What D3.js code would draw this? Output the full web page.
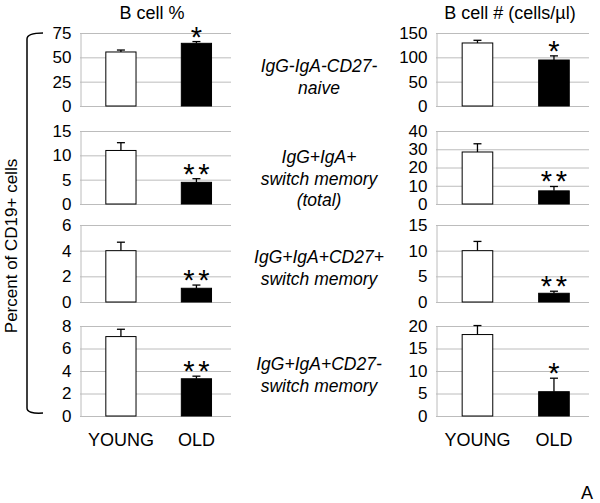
<!DOCTYPE html>
<html>
<head>
<meta charset="utf-8">
<script src="https://cdn.jsdelivr.net/npm/d3@7"></script>
<style>
  body { margin: 0; background: #fff; }
  text { font-family: "Liberation Sans", Arial, sans-serif; fill: #000; }
</style>
</head>
<body>
<div id="chart"></div>
<script>
// groups on the x axis
var groups = ["YOUNG", "OLD"];

// B cell % (left column), one row per subset
var pctMeans = [[55.5, 64.4], [11.0, 4.45], [4.0, 1.07], [7.06, 3.31]];
var pctErrors = [[2.0, 1.8], [1.6, 0.75], [0.66, 0.25], [0.65, 0.23]];
var pctTicks = [[0, 25, 50, 75], [0, 5, 10, 15], [0, 2, 4, 6], [0, 2, 4, 6, 8]];
var pctStars = [1, 2, 2, 2];

// B cell # (right column)
var cntMeans = [[129.5, 94.5], [28.5, 7.2], [10.0, 1.7], [18.1, 5.4]];
var cntErrors = [[5.5, 8.5], [4.5, 2.4], [1.8, 0.4], [2.0, 3.0]];
var cntTicks = [[0, 50, 100, 150], [0, 10, 20, 30, 40], [0, 5, 10, 15], [0, 5, 10, 15, 20]];
var cntStars = [1, 2, 2, 1];

// subset names in the middle
var subsetLabels = [
  ["IgG-IgA-CD27-", "naive"],
  ["IgG+IgA+", "switch memory", "(total)"],
  ["IgG+IgA+CD27+", "switch memory"],
  ["IgG+IgA+CD27-", "switch memory"]
];

var width = 600, height = 503;
var rows = [[33, 106], [131, 204], [225, 302], [326, 416]];   // top, bottom of each plot
var labelTops = [72, 163, 263, 370];

var svg = d3.select("#chart").append("svg")
  .attr("width", width)
  .attr("height", height);

function drawColumn(x0, x1, means, errors, ticks, stars) {
  var x = d3.scaleBand().domain(groups).range([x0, x1])
    .paddingInner(0.6).paddingOuter(0.3).align(0.57);

  rows.forEach(function(r, i) {
    var y = d3.scaleLinear()
      .domain([0, d3.max(ticks[i])])
      .range([r[1], r[0]]);
    var g = svg.append("g").attr("class", "panel");

    // gridlines
    g.selectAll(".grid").data(ticks[i]).enter().append("line")
      .attr("x1", x0).attr("x2", x1)
      .attr("y1", function(d) { return y(d) + 0.5; })
      .attr("y2", function(d) { return y(d) + 0.5; })
      .attr("stroke", "#bcbcbc").attr("stroke-width", 1);

    var axis = d3.axisLeft(y).tickValues(ticks[i]).tickFormat(d3.format("d"))
      .tickSize(0).tickPadding(9);
    var ax = g.append("g").attr("transform", "translate(" + (x0 + 0.5) + ",0)").call(axis);
    ax.select(".domain").attr("stroke", "#bcbcbc");
    ax.selectAll("text")
      .style("font-family", "'Liberation Sans', Arial, sans-serif")
      .style("font-size", "17px")
      .attr("fill", "#000");

    var rowData = groups.map(function(k, j) {
      return { group: k, mean: means[i][j], err: errors[i][j] };
    });

    // error bars (upward only)
    rowData.forEach(function(d) {
      var cx = x(d.group) + x.bandwidth() / 2;
      g.append("line")
        .attr("x1", cx).attr("x2", cx)
        .attr("y1", y(d.mean)).attr("y2", y(d.mean + d.err))
        .attr("stroke", "#000").attr("stroke-width", 1.3);
      g.append("line")
        .attr("x1", cx - 4).attr("x2", cx + 4)
        .attr("y1", y(d.mean + d.err)).attr("y2", y(d.mean + d.err))
        .attr("stroke", "#000").attr("stroke-width", 1.3);
    });

    g.selectAll(".bar").data(rowData).enter().append("rect")
      .attr("x", function(d) { return x(d.group); })
      .attr("y", function(d) { return y(d.mean); })
      .attr("width", x.bandwidth())
      .attr("height", function(d) { return y(0) - y(d.mean); })
      .attr("fill", function(d, j) { return j === 0 ? "#fff" : "#000"; })
      .attr("stroke", "#000").attr("stroke-width", 1);

    // significance stars over OLD
    var old = rowData[1];
    var cx = x(old.group) + x.bandwidth() / 2;
    var n = stars[i];
    g.selectAll(".star").data(d3.range(n)).enter().append("text")
      .attr("x", function(k) { return cx + (k - (n - 1) / 2) * 15; })
      .attr("y", y(old.mean + old.err) + 5)
      .attr("text-anchor", "middle")
      .style("font-size", "29px")
      .text("*");
  });

  // group names under last row
  svg.append("g").selectAll("text").data(groups).enter().append("text")
    .attr("x", function(d) { return x(d) + x.bandwidth() / 2; })
    .attr("y", 446)
    .attr("text-anchor", "middle")
    .style("font-size", "18px")
    .text(function(d) { return d; });
}

drawColumn(80, 231, pctMeans, pctErrors, pctTicks, pctStars);
drawColumn(436, 589, cntMeans, cntErrors, cntTicks, cntStars);

// titles
svg.append("text").attr("x", 152).attr("y", 19).attr("text-anchor", "middle")
  .style("font-size", "18px").text("B cell %");
svg.append("text").attr("x", 510).attr("y", 19).attr("text-anchor", "middle")
  .style("font-size", "18px").text("B cell # (cells/µl)");

// subset labels
subsetLabels.forEach(function(lines, i) {
  var t = svg.append("text")
    .attr("text-anchor", "middle")
    .style("font-size", "17.5px")
    .style("font-style", "italic");
  lines.forEach(function(s, k) {
    t.append("tspan").attr("x", 319).attr("y", labelTops[i] + k * 21.5).text(s);
  });
});

// bracket + y label
svg.append("path")
  .attr("d", "M43,33 Q27,33 27,39 L27,408 Q27,414 43,413")
  .attr("fill", "none").attr("stroke", "#000").attr("stroke-width", 1.5);
svg.append("text")
  .attr("transform", "translate(17,246) rotate(-90)")
  .attr("text-anchor", "middle")
  .style("font-size", "17px")
  .text("Percent of CD19+ cells");

svg.append("text").attr("x", 587).attr("y", 499).attr("text-anchor", "middle")
  .style("font-size", "18px").text("A");
</script>
</body>
</html>
